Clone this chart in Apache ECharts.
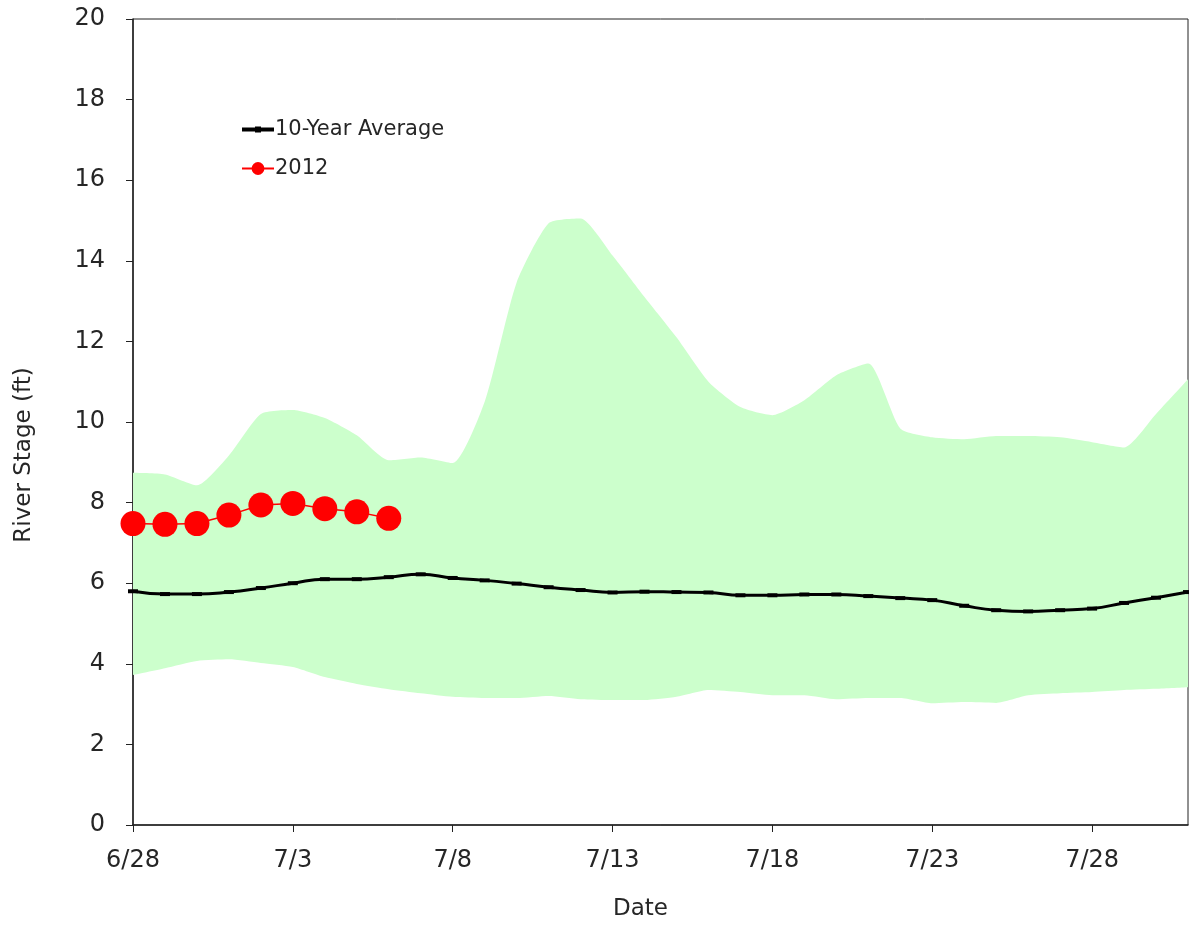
<!DOCTYPE html>
<html>
<head>
<meta charset="utf-8">
<script src="https://cdn.jsdelivr.net/npm/echarts@6/dist/echarts.min.js"></script>
<style>html,body{margin:0;padding:0;background:#fff}#c{width:1189px;height:926px}</style>
</head>
<body>
<div id="c"></div>
<script>
var dates = ['6/28','6/29','6/30','7/1','7/2','7/3','7/4','7/5','7/6','7/7','7/8','7/9','7/10','7/11','7/12','7/13','7/14','7/15','7/16','7/17','7/18','7/19','7/20','7/21','7/22','7/23','7/24','7/25','7/26','7/27','7/28','7/29','7/30','7/31'];
var avg10 = [5.8,5.73,5.73,5.78,5.88,6.0,6.1,6.1,6.15,6.22,6.13,6.07,5.99,5.9,5.83,5.77,5.79,5.78,5.77,5.7,5.7,5.72,5.72,5.68,5.63,5.58,5.44,5.33,5.3,5.33,5.37,5.51,5.64,5.78];
var bandUpper = [8.74,8.70,8.43,9.17,10.2,10.3,10.1,9.67,9.05,9.12,8.98,10.5,13.46,14.93,15.05,14.13,13.1,12.1,11.0,10.37,10.17,10.54,11.16,11.45,9.84,9.62,9.57,9.65,9.65,9.62,9.5,9.37,10.2,11.06];
var bandLower = [3.72,3.89,4.07,4.11,4.02,3.92,3.67,3.5,3.37,3.27,3.18,3.15,3.15,3.2,3.12,3.1,3.1,3.18,3.35,3.3,3.22,3.22,3.12,3.15,3.15,3.02,3.05,3.03,3.22,3.27,3.3,3.35,3.38,3.42];
var obs2012 = [7.48,7.46,7.48,7.69,7.94,7.98,7.85,7.77,7.61];

var bandWidth = bandUpper.map(function(u,i){return +(u - bandLower[i]).toFixed(3);});
var font = 'DejaVu Sans';
var txt = '#262626';

var chart = echarts.init(document.getElementById('c'));
chart.setOption({
  animation: false,
  backgroundColor: '#fff',
  grid: {left: 133, right: 1, top: 19, bottom: 101, show: true, borderColor: '#222', borderWidth: 1},
  legend: {
    orient: 'vertical', left: 236, top: 114, itemGap: 18, itemWidth: 32, itemHeight: 16,
    data: [
      {name: '10-Year Average', icon: 'path://M0,5 L32,5 L32,9 L0,9 Z M13,4 L19,4 L19,10 L13,10 Z'},
      {name: '2012'}
    ],
    textStyle: {fontFamily: font, fontSize: 21, color: txt, padding: [0,0,0,-4]}
  },
  xAxis: {
    type: 'category', data: dates, boundaryGap: false,
    name: 'Date', nameLocation: 'middle', nameGap: 73,
    nameTextStyle: {fontFamily: font, fontSize: 23, color: txt, padding: [0,40,0,0]},
    axisLine: {lineStyle: {color: '#222', width: 1.5}},
    axisTick: {interval: 4, length: 7, lineStyle: {color: '#222'}},
    axisLabel: {interval: 4, fontFamily: font, fontSize: 24, color: txt, margin: 24},
    splitLine: {show: false}
  },
  yAxis: {
    type: 'value', min: 0, max: 20, interval: 2,
    name: 'River Stage (ft)', nameLocation: 'middle', nameGap: 97,
    nameTextStyle: {fontFamily: font, fontSize: 23, color: txt, padding: [0,66,0,0]},
    axisLine: {show: true, lineStyle: {color: '#222', width: 1.5}},
    axisTick: {show: true, length: 7, lineStyle: {color: '#222'}},
    axisLabel: {fontFamily: font, fontSize: 24, color: txt, margin: 28},
    splitLine: {show: false}
  },
  series: [
    {name: 'lower', type: 'line', stack: 'band', data: bandLower, symbol: 'none', smooth: 0.2,
     lineStyle: {opacity: 0}, silent: true, z: 1},
    {name: 'range', type: 'line', stack: 'band', data: bandWidth, symbol: 'none', smooth: 0.2,
     lineStyle: {opacity: 0}, areaStyle: {color: '#ccffcc', opacity: 1}, silent: true, z: 1},
    {name: '10-Year Average', type: 'line', data: avg10, smooth: true,
     symbol: 'rect', symbolSize: [10,4], showSymbol: true, showAllSymbol: true,
     itemStyle: {color: '#000'}, lineStyle: {color: '#000', width: 3}, z: 3},
    {name: '2012', type: 'line', data: obs2012,
     symbol: 'circle', symbolSize: 25, showAllSymbol: true,
     itemStyle: {color: '#ff0000'}, lineStyle: {color: '#ff0000', width: 1.5}, z: 4}
  ]
});
</script>
</body>
</html>
